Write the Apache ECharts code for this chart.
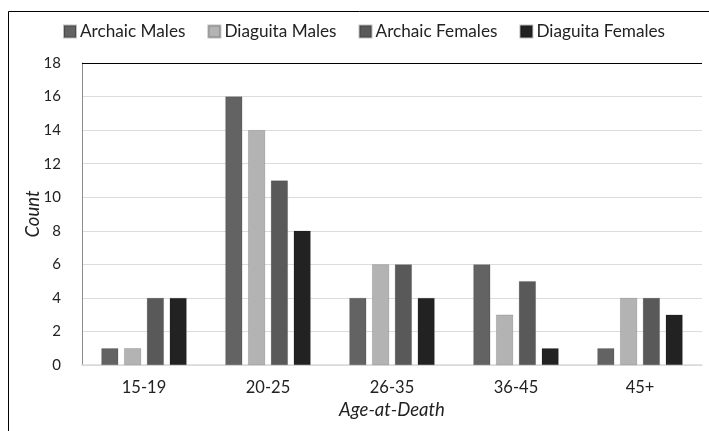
<!DOCTYPE html>
<html><head><meta charset="utf-8">
<script src="https://cdn.jsdelivr.net/npm/echarts@6/dist/echarts.min.js"></script>
<style>html,body{margin:0;padding:0;background:#fff}#c{width:709px;height:431px}</style>
</head><body><div id="c"></div>
<script>
var categories = ['15-19', '20-25', '26-35', '36-45', '45+'];
var archaicMales = [1, 16, 4, 6, 1];
var diaguitaMales = [1, 14, 6, 3, 4];
var archaicFemales = [4, 11, 6, 5, 4];
var diaguitaFemales = [4, 8, 4, 1, 3];
var seriesNames = ['Archaic Males', 'Diaguita Males', 'Archaic Females', 'Diaguita Females'];
var colors = ['#636363', '#b3b3b3', '#595959', '#222222'];
var yMax = 18;

var font = 'Lato, "Open Sans", sans-serif';
var chart = echarts.init(document.getElementById('c'));
function mk(i, data) {
  var s = {
    name: seriesNames[i], type: 'bar', data: data, barWidth: 17, barGap: '34%',
    itemStyle: { color: colors[i], borderColor: 'rgba(0,0,0,0.25)', borderWidth: 0.6 },
    animation: false
  };
  if (i === 0) {
    s.markLine = { silent: true, symbol: 'none', label: { show: false },
      lineStyle: { color: '#000', width: 1.2, type: 'solid' }, data: [{ yAxis: yMax }] };
  }
  return s;
}
chart.setOption({
  animation: false,
  color: colors,
  graphic: [{ type: 'rect', shape: { x: 8.5, y: 11.5, width: 720, height: 440 },
    style: { fill: 'none', stroke: '#000', lineWidth: 1 }, z: -1 }],
  legend: {
    top: 18, left: 58, itemWidth: 12, itemHeight: 12, itemGap: 22,
    icon: 'rect',
    textStyle: { fontFamily: font, fontSize: 17.2, color: '#222', padding: [0, 0, 0, -1] },
    data: seriesNames
  },
  grid: { left: 82, top: 63, right: 7, bottom: 66 },
  xAxis: {
    type: 'category', data: categories,
    axisLine: { lineStyle: { color: '#d9d9d9', width: 1.5 } },
    axisTick: { show: false },
    axisLabel: { fontFamily: font, fontSize: 16.5, color: '#222', margin: 14 },
    name: 'Age-at-Death', nameLocation: 'middle', nameGap: 35,
    nameTextStyle: { fontFamily: font, fontSize: 18.5, fontStyle: 'italic', color: '#222' }
  },
  yAxis: {
    type: 'value', min: 0, max: yMax, interval: 2,
    axisLine: { show: true, lineStyle: { color: '#8c8c8c' } },
    axisTick: { show: false },
    splitLine: { lineStyle: { color: '#dcdcdc', width: 1 } },
    axisLabel: { fontFamily: font, fontSize: 15, color: '#222', margin: 21 },
    name: 'Count', nameLocation: 'middle', nameGap: 39, nameRotate: 90, nameMoveOverlap: false,
    nameTextStyle: { fontFamily: font, fontSize: 18.5, fontStyle: 'italic', color: '#222' }
  },
  series: [mk(0, archaicMales), mk(1, diaguitaMales), mk(2, archaicFemales), mk(3, diaguitaFemales)]
});
</script></body></html>
